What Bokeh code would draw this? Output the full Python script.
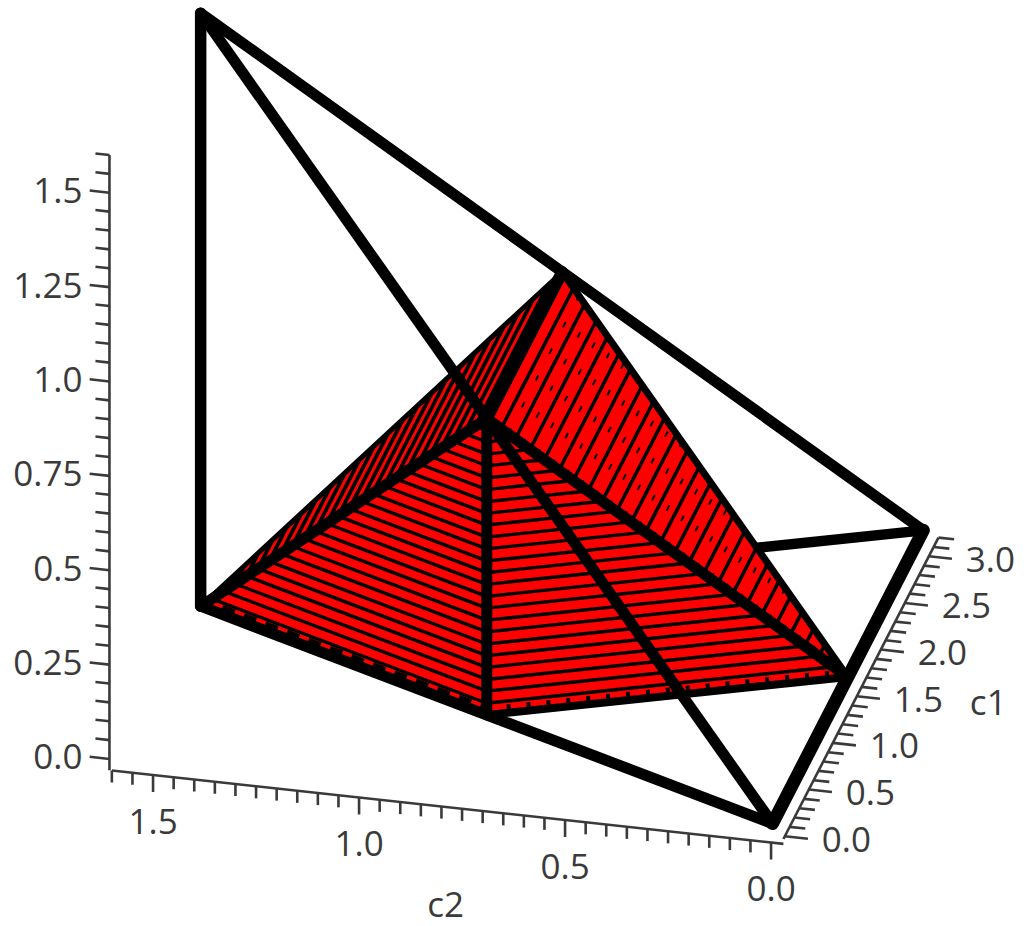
import numpy as np
from bokeh.plotting import figure
from bokeh.models import Range1d
from bokeh.core.properties import value
from bokeh.embed import file_html
from bokeh.resources import INLINE

# Vertices of the chamber and of the inner solid, (c1, c2, z)
A = (0.0, 0.0, 0.0)
B = (3.142, 0.0, 0.0)
C = (1.571, 1.571, 0.0)
D = (1.571, 1.571, 1.571)
G = (0.785, 0.785, 0.0)
F = (1.571, 0.0, 0.0)
P = (0.785, 0.785, 0.785)
Q = (2.356, 0.785, 0.785)

# z heights of the hatch lines read on the red faces
z_levels = [0.031, 0.063, 0.094, 0.126, 0.157, 0.188, 0.220, 0.251,
            0.283, 0.314, 0.346, 0.377, 0.408, 0.440, 0.471, 0.503,
            0.534, 0.565, 0.597, 0.628, 0.660, 0.691, 0.723, 0.754]

z_major = [0.0, 0.25, 0.5, 0.75, 1.0, 1.25, 1.5]
z_major_labels = ["0.0", "0.25", "0.5", "0.75", "1.0", "1.25", "1.5"]
z_minor = [0.05, 0.10, 0.15, 0.20, 0.30, 0.35, 0.40, 0.45, 0.55, 0.60, 0.65, 0.70,
           0.80, 0.85, 0.90, 0.95, 1.05, 1.10, 1.15, 1.20, 1.30, 1.35, 1.40, 1.45,
           1.55, 1.60]
c2_major = [0.0, 0.5, 1.0, 1.5]
c2_major_labels = ["0.0", "0.5", "1.0", "1.5"]
c2_minor = [0.05, 0.10, 0.15, 0.20, 0.25, 0.30, 0.35, 0.40, 0.45,
            0.55, 0.60, 0.65, 0.70, 0.75, 0.80, 0.85, 0.90, 0.95,
            1.05, 1.10, 1.15, 1.20, 1.25, 1.30, 1.35, 1.40, 1.45, 1.55, 1.60]
c1_major = [0.0, 0.5, 1.0, 1.5, 2.0, 2.5, 3.0]
c1_major_labels = ["0.0", "0.5", "1.0", "1.5", "2.0", "2.5", "3.0"]
c1_minor = [0.1, 0.2, 0.3, 0.4, 0.6, 0.7, 0.8, 0.9, 1.1, 1.2, 1.3, 1.4, 1.6, 1.7, 1.8, 1.9,
            2.1, 2.2, 2.3, 2.4, 2.6, 2.7, 2.8, 2.9, 3.1, 3.2]

U0 = np.array([772.0, 823.0])
U1 = np.array([48.0, -93.3])
U2 = np.array([-412.0, -45.0])
U3 = np.array([0.0, -377.5])


def proj(pts):
    pts = np.atleast_2d(np.asarray(pts, dtype=float))
    xy = U0 + pts[:, [0]] * U1 + pts[:, [1]] * U2 + pts[:, [2]] * U3
    return xy[:, 0], xy[:, 1]


p = figure(width=1024, height=926, output_backend="svg", toolbar_location=None,
           x_range=Range1d(0, 1024), y_range=Range1d(926, 0),
           x_axis_location=None, y_axis_location=None, min_border=0,
           outline_line_color=None, background_fill_color="white")
p.grid.visible = False

INK = "#3a3a3a"
RED = "#ff0000"


def edge(a, b, w):
    x, y = proj([a, b])
    p.line(x, y, line_color="black", line_width=w, line_cap="round", line_join="round")


# hidden edge behind the solid
edge(B, C, 10.5)

# red faces: (lower a, lower b, upper a, upper b)
faces = [(C, G, P, P, 3.4), (G, F, P, P, 3.4), (C, C, P, Q, 3.8), (F, F, P, Q, 3.6)]
for (a, b, c, d, w) in faces:
    verts = [a, b, d, c]
    x, y = proj(verts)
    p.patch(x, y, fill_color=RED, line_color=RED, line_width=1)
for (a, b, c, d, w) in faces:
    a_, b_, c_, d_ = map(np.array, (a, b, c, d))
    xs, ys = [], []
    for z in z_levels:
        t = z / 0.785
        x, y = proj([a_ + (c_ - a_) * t, b_ + (d_ - b_) * t])
        xs.append(x)
        ys.append(y)
    p.multi_line(xs, ys, line_color="black", line_width=w)

# dark specks inside the bands of the right-hand upper face
a_, b_, c_, d_ = map(np.array, (F, F, P, Q))
xs, ys = [], []
for z0, z1 in zip(z_levels[:-1], z_levels[1:]):
    t = (z0 + z1) / 2 / 0.785
    x, y = proj([a_ + (c_ - a_) * t, b_ + (d_ - b_) * t])
    xs.append(x)
    ys.append(y)
p.multi_line(xs, ys, line_color="black", line_width=2, line_dash="6 24")

# uneven dark blocks along the lower edges
for (a, b, w, dash) in [(C, G, 7, "13 10"), (G, F, 4.5, "4 16")]:
    x, y = proj([(a[0], a[1], 0.016), (b[0], b[1], 0.016)])
    p.line(x, y, line_color="black", line_width=w, line_dash=dash)

# solid edges
edge(C, P, 11)
edge(C, Q, 5)
edge(G, P, 11)
edge(G, F, 8)
edge(F, P, 11)
edge(Q, F, 7)
edge(P, Q, 12)

# outer chamber
edge(D, C, 11.5)
edge(D, A, 11)
edge(D, B, 11)
edge(C, A, 11)
edge(A, B, 13)

# axes
Z_C1, Z_C2 = -0.08, 1.60
C2_C1, C2_Z = -0.03, -0.043
C1_C2, C1_Z = -0.03, -0.03


def ticks(pts, d):
    x0, y0 = proj(pts)
    x1, y1 = proj(np.asarray(pts) + np.asarray(d))
    p.segment(x0, y0, x1, y1, line_color=INK, line_width=2.6)


# z
x, y = proj([(Z_C1, Z_C2, -0.03), (Z_C1, Z_C2, 1.6)])
p.line(x, y, line_color=INK, line_width=2.6)
zmaj = [(Z_C1, Z_C2, v) for v in z_major]
ticks(zmaj, (0, 0.048, 0))
ticks([(Z_C1, Z_C2, v) for v in z_minor], (0, 0.034, 0))
x, y = proj(zmaj)
p.text(x, y, text=z_major_labels, x_offset=-27, y_offset=-2, text_align="right",
       text_baseline="middle", text_font=value("Open Sans"),
       text_font_size=value("35px"), text_color=INK)

# c2
x, y = proj([(C2_C1, -0.03, C2_Z), (C2_C1, 1.6, C2_Z)])
p.line(x, y, line_color=INK, line_width=2.6)
c2maj = [(C2_C1, v, C2_Z) for v in c2_major]
ticks(c2maj, (0, 0, -0.045))
ticks([(C2_C1, v, C2_Z) for v in c2_minor], (0, 0, -0.032))
x, y = proj(c2maj)
p.text(x, y, text=c2_major_labels, y_offset=46, text_align="center",
       text_baseline="middle", text_font=value("Open Sans"),
       text_font_size=value("35px"), text_color=INK)
x, y = proj([(C2_C1, 0.79, C2_Z)])
p.text(x, y, text=["c2"], y_offset=97, text_align="center", text_baseline="middle",
       text_font=value("Open Sans"), text_font_size=value("35px"), text_color=INK)

# c1
x, y = proj([(-0.03, C1_C2, C1_Z), (3.2, C1_C2, C1_Z)])
p.line(x, y, line_color=INK, line_width=2.6)
c1maj = [(v, C1_C2, C1_Z) for v in c1_major]
ticks(c1maj, (0, -0.056, 0))
ticks([(v, C1_C2, C1_Z) for v in c1_minor], (0, -0.038, 0))
x, y = proj(c1maj)
p.text(x, y, text=c1_major_labels, x_offset=37, y_offset=3, text_align="left",
       text_baseline="middle", text_font=value("Open Sans"),
       text_font_size=value("35px"), text_color=INK)
x, y = proj([(1.5, C1_C2, C1_Z)])
p.text(x, y, text=["c1"], x_offset=113, y_offset=5, text_align="left", text_baseline="middle",
       text_font=value("Open Sans"), text_font_size=value("35px"), text_color=INK)

open("out.html", "w").write(file_html(p, INLINE))
